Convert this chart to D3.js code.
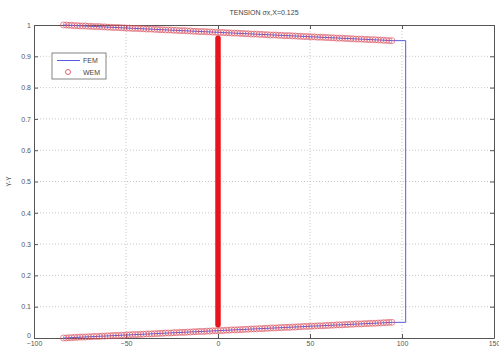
<!DOCTYPE html>
<html>
<head>
<meta charset="utf-8">
<script src="https://cdnjs.cloudflare.com/ajax/libs/d3/7.8.5/d3.min.js"></script>
<style>
  body { margin: 0; background: #fff; }
  svg { font-family: "Liberation Sans", Arial, sans-serif; }
</style>
</head>
<body>
<svg width="499" height="349"></svg>
<script>
// chart values
var titleText = "TENSION \u03c3x,X=0.125";
var yLabel = "Y-Y";
var xTicks = [-100, -50, 0, 50, 100, 150];
var yTicks = [0, 0.1, 0.2, 0.3, 0.4, 0.5, 0.6, 0.7, 0.8, 0.9, 1];

// WEM points along the top and bottom edges
var wemX = [-84, -82.5, -81, -79.5, -78, -76.5, -75, -73.5, -72, -70.5,
  -69, -67.5, -66, -64.5, -63, -61.5, -60, -58.5, -57, -55.5,
  -54, -52.5, -51, -49.5, -48, -46.5, -45, -43.5, -42, -40.5,
  -39, -37.5, -36, -34.5, -33, -31.5, -30, -28.5, -27, -25.5,
  -24, -22.5, -21, -19.5, -18, -16.5, -15, -13.5, -12, -10.5,
  -9, -7.5, -6, -4.5, -3, -1.5, 0, 1.5, 3, 4.5,
  6, 7.5, 9, 10.5, 12, 13.5, 15, 16.5, 18, 19.5,
  21, 22.5, 24, 25.5, 27, 28.5, 30, 31.5, 33, 34.5,
  36, 37.5, 39, 40.5, 42, 43.5, 45, 46.5, 48, 49.5,
  51, 52.5, 54, 55.5, 57, 58.5, 60, 61.5, 63, 64.5,
  66, 67.5, 69, 70.5, 72, 73.5, 75, 76.5, 78, 79.5,
  81, 82.5, 84, 85.5, 87, 88.5, 90, 91.5, 93, 94.5];
var wemTopY = [1.000, 1.000, 0.999, 0.999, 0.998, 0.998, 0.997, 0.997, 0.997, 0.996,
  0.996, 0.995, 0.995, 0.995, 0.994, 0.994, 0.993, 0.993, 0.992, 0.992,
  0.992, 0.991, 0.991, 0.990, 0.990, 0.989, 0.989, 0.989, 0.988, 0.988,
  0.987, 0.987, 0.987, 0.986, 0.986, 0.985, 0.985, 0.984, 0.984, 0.984,
  0.983, 0.983, 0.982, 0.982, 0.982, 0.981, 0.981, 0.980, 0.980, 0.979,
  0.979, 0.979, 0.978, 0.978, 0.977, 0.977, 0.976, 0.976, 0.976, 0.975,
  0.975, 0.974, 0.974, 0.974, 0.973, 0.973, 0.972, 0.972, 0.971, 0.971,
  0.971, 0.970, 0.970, 0.969, 0.969, 0.968, 0.968, 0.968, 0.967, 0.967,
  0.966, 0.966, 0.966, 0.965, 0.965, 0.964, 0.964, 0.963, 0.963, 0.963,
  0.962, 0.962, 0.961, 0.961, 0.961, 0.960, 0.960, 0.959, 0.959, 0.958,
  0.958, 0.958, 0.957, 0.957, 0.956, 0.956, 0.955, 0.955, 0.955, 0.954,
  0.954, 0.953, 0.953, 0.953, 0.952, 0.952, 0.951, 0.951, 0.950, 0.950];
var wemBotY = [0.000, 0.000, 0.001, 0.001, 0.002, 0.002, 0.003, 0.003, 0.003, 0.004,
  0.004, 0.005, 0.005, 0.005, 0.006, 0.006, 0.007, 0.007, 0.008, 0.008,
  0.008, 0.009, 0.009, 0.010, 0.010, 0.011, 0.011, 0.011, 0.012, 0.012,
  0.013, 0.013, 0.013, 0.014, 0.014, 0.015, 0.015, 0.016, 0.016, 0.016,
  0.017, 0.017, 0.018, 0.018, 0.018, 0.019, 0.019, 0.020, 0.020, 0.021,
  0.021, 0.021, 0.022, 0.022, 0.023, 0.023, 0.024, 0.024, 0.024, 0.025,
  0.025, 0.026, 0.026, 0.026, 0.027, 0.027, 0.028, 0.028, 0.029, 0.029,
  0.029, 0.030, 0.030, 0.031, 0.031, 0.032, 0.032, 0.032, 0.033, 0.033,
  0.034, 0.034, 0.034, 0.035, 0.035, 0.036, 0.036, 0.037, 0.037, 0.037,
  0.038, 0.038, 0.039, 0.039, 0.039, 0.040, 0.040, 0.041, 0.041, 0.042,
  0.042, 0.042, 0.043, 0.043, 0.044, 0.044, 0.045, 0.045, 0.045, 0.046,
  0.046, 0.047, 0.047, 0.047, 0.048, 0.048, 0.049, 0.049, 0.050, 0.050];

// WEM points on the centre line (x = 0), so dense they read as a solid bar
var wemMidX = [0, 0];
var wemMidY = [0.042, 0.958];

// FEM outline
var femX = [-84, 95, 102, 102, 95, -84];
var femY = [1.000, 0.950, 0.950, 0.050, 0.050, 0.000];

var svg = d3.select("svg"),
  margin = { top: 25, right: 5, bottom: 11, left: 34 },
  width = +svg.attr("width") - margin.left - margin.right,
  height = +svg.attr("height") - margin.top - margin.bottom;

var x = d3.scaleLinear().domain([-100, 150]).range([0, width]);
var y = d3.scaleLinear().domain([0, 1]).range([height, 0]);

var g = svg.append("g").attr("transform", "translate(" + margin.left + "," + margin.top + ")");

// grid
g.selectAll(".gx").data(xTicks.slice(1, -1)).enter().append("line")
  .attr("x1", function (d) { return x(d); }).attr("x2", function (d) { return x(d); })
  .attr("y1", 0).attr("y2", height)
  .attr("stroke", "#bbb").attr("stroke-width", 0.8).attr("stroke-dasharray", "1,2");
g.selectAll(".gy").data(yTicks.slice(1, -1)).enter().append("line")
  .attr("y1", function (d) { return y(d); }).attr("y2", function (d) { return y(d); })
  .attr("x1", 0).attr("x2", width)
  .attr("stroke", "#bbb").attr("stroke-width", 0.8).attr("stroke-dasharray", "1,2");

// axes (ticks inside, box all round)
function styleAxis(sel) {
  sel.selectAll("path").attr("stroke", "#555");
  sel.selectAll("line").attr("stroke", "#555");
  sel.selectAll("text").attr("fill", "#555").style("font-size", "7px");
}
g.append("g").attr("transform", "translate(0," + height + ")")
  .call(d3.axisBottom(x).tickValues(xTicks).tickSize(-4).tickSizeOuter(0).tickPadding(3))
  .call(styleAxis);
var yAxis = g.append("g")
  .call(d3.axisLeft(y).tickValues(yTicks).tickFormat(d3.format("~g")).tickSize(-4).tickSizeOuter(0).tickPadding(3))
  .call(styleAxis);
// lift the "0" a little so it clears the "-100" under it
yAxis.selectAll(".tick").filter(function (d) { return d === 0; }).select("text").attr("dy", "-0.1em");
g.append("g")
  .call(d3.axisTop(x).tickValues(xTicks).tickSize(-4).tickSizeOuter(0).tickFormat(""))
  .call(styleAxis);
g.append("g").attr("transform", "translate(" + width + ",0)")
  .call(d3.axisRight(y).tickValues(yTicks).tickSize(-4).tickSizeOuter(0).tickFormat(""))
  .call(styleAxis);

// FEM line
var line = d3.line().x(function (d) { return x(d[0]); }).y(function (d) { return y(d[1]); });
g.append("path")
  .datum(d3.zip(femX, femY))
  .attr("d", line)
  .attr("fill", "none").attr("stroke", "#5a5ae0").attr("stroke-width", 1);

// WEM circles
var wemPts = d3.zip(wemX, wemTopY).concat(d3.zip(wemX, wemBotY));
g.selectAll(".wem").data(wemPts).enter().append("circle")
  .attr("cx", function (d) { return x(d[0]); })
  .attr("cy", function (d) { return y(d[1]); })
  .attr("r", 3)
  .attr("fill", "none").attr("stroke", "#d9505e").attr("stroke-width", 0.8).attr("stroke-opacity", 0.8);

g.append("path")
  .datum(d3.zip(wemMidX, wemMidY))
  .attr("d", line)
  .attr("fill", "none").attr("stroke", "#e8131b").attr("stroke-width", 5.5).attr("stroke-linecap", "round");

// title and y label
svg.append("text").attr("x", margin.left + width / 2).attr("y", 15)
  .attr("text-anchor", "middle").style("font-size", "7px").attr("fill", "#444").text(titleText);
svg.append("text").attr("transform", "translate(11," + (margin.top + height / 2) + ") rotate(-90)")
  .attr("text-anchor", "middle").style("font-size", "6.5px").attr("fill", "#555").text(yLabel);

// legend
var leg = svg.append("g").attr("transform", "translate(52,53)");
leg.append("rect").attr("width", 54).attr("height", 26)
  .attr("fill", "#fff").attr("stroke", "#666").attr("stroke-width", 0.8);
leg.append("line").attr("x1", 5).attr("x2", 28).attr("y1", 7.5).attr("y2", 7.5)
  .attr("stroke", "#5a5ae0").attr("stroke-width", 1);
leg.append("text").attr("x", 31).attr("y", 10).style("font-size", "7px").attr("fill", "#444").text("FEM");
leg.append("circle").attr("cx", 16).attr("cy", 19).attr("r", 2.5)
  .attr("fill", "none").attr("stroke", "#d9505e").attr("stroke-width", 0.9);
leg.append("text").attr("x", 31).attr("y", 21.5).style("font-size", "7px").attr("fill", "#444").text("WEM");
</script>
</body>
</html>
